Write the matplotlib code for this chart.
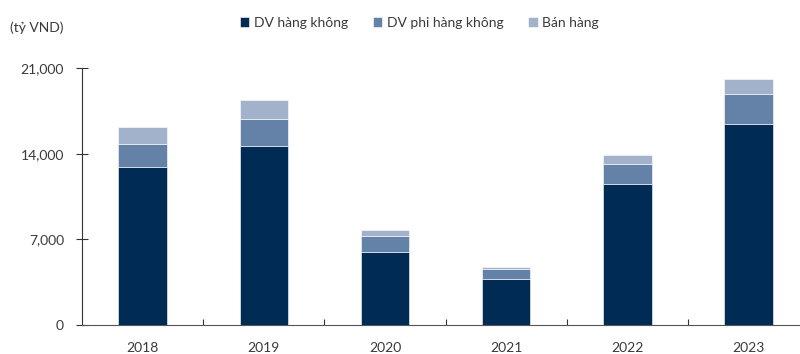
import matplotlib.pyplot as plt
import numpy as np
from matplotlib.ticker import FuncFormatter, FixedLocator

plt.rcParams['font.family'] = ['Lato', 'DejaVu Sans']

years = ['2018', '2019', '2020', '2021', '2022', '2023']
dv_hang_khong = [12880, 14650, 5965, 3785, 11520, 16425]
dv_phi_hang_khong = [1880, 2180, 1305, 790, 1635, 2475]
ban_hang = [1390, 1555, 490, 190, 760, 1200]
series_names = ['DV hàng không', 'DV phi hàng không', 'Bán hàng']
colors = ['#002B55', '#6482A8', '#A3B2CB']
text_color = '#3a3a3a'

fig = plt.figure(figsize=(8, 3.54), dpi=100)
ax = fig.add_axes([0.1025, 0.0819, 0.909, 0.726])

x = np.arange(len(years))
bottom = np.zeros(len(years))
for vals, name, c in zip([dv_hang_khong, dv_phi_hang_khong, ban_hang], series_names, colors):
    ax.bar(x, vals, width=0.4, bottom=bottom, color=c, label=name,
           edgecolor='white', linewidth=0.4)
    bottom += np.array(vals)

ax.set_xlim(-0.5, 5.5)
ax.set_ylim(0, 21000)
ax.set_yticks([0, 7000, 14000, 21000])
ax.yaxis.set_major_formatter(FuncFormatter(lambda v, p: f'{int(v):,}'))

ax.set_xticks(x)
ax.set_xticklabels(years)
ax.xaxis.set_minor_locator(FixedLocator(np.arange(0.5, 5.0, 1.0)))
ax.tick_params(axis='x', which='major', length=0, pad=12, labelsize=10, labelcolor=text_color)
ax.tick_params(axis='x', which='minor', direction='in', length=4, width=0.8, color='#333333')
ax.tick_params(axis='y', direction='inout', length=8, width=0.8, pad=9,
               labelsize=10, labelcolor=text_color, color='#333333')

for side in ['top', 'right']:
    ax.spines[side].set_visible(False)
ax.spines['left'].set_color('#333333')
ax.spines['bottom'].set_color('#555555')
ax.spines['left'].set_linewidth(0.8)
ax.spines['bottom'].set_linewidth(0.8)

fig.text(0.0125, 0.923, '(tỷ VND)', fontsize=10, color=text_color, va='center', ha='left')

fig.legend(loc='center', bbox_to_anchor=(0.524, 0.935), ncol=3, frameon=False,
           fontsize=10, handlelength=0.7, handleheight=0.7, handletextpad=0.3,
           columnspacing=1.8, labelcolor=text_color)

fig.savefig('out.png', dpi=100)
